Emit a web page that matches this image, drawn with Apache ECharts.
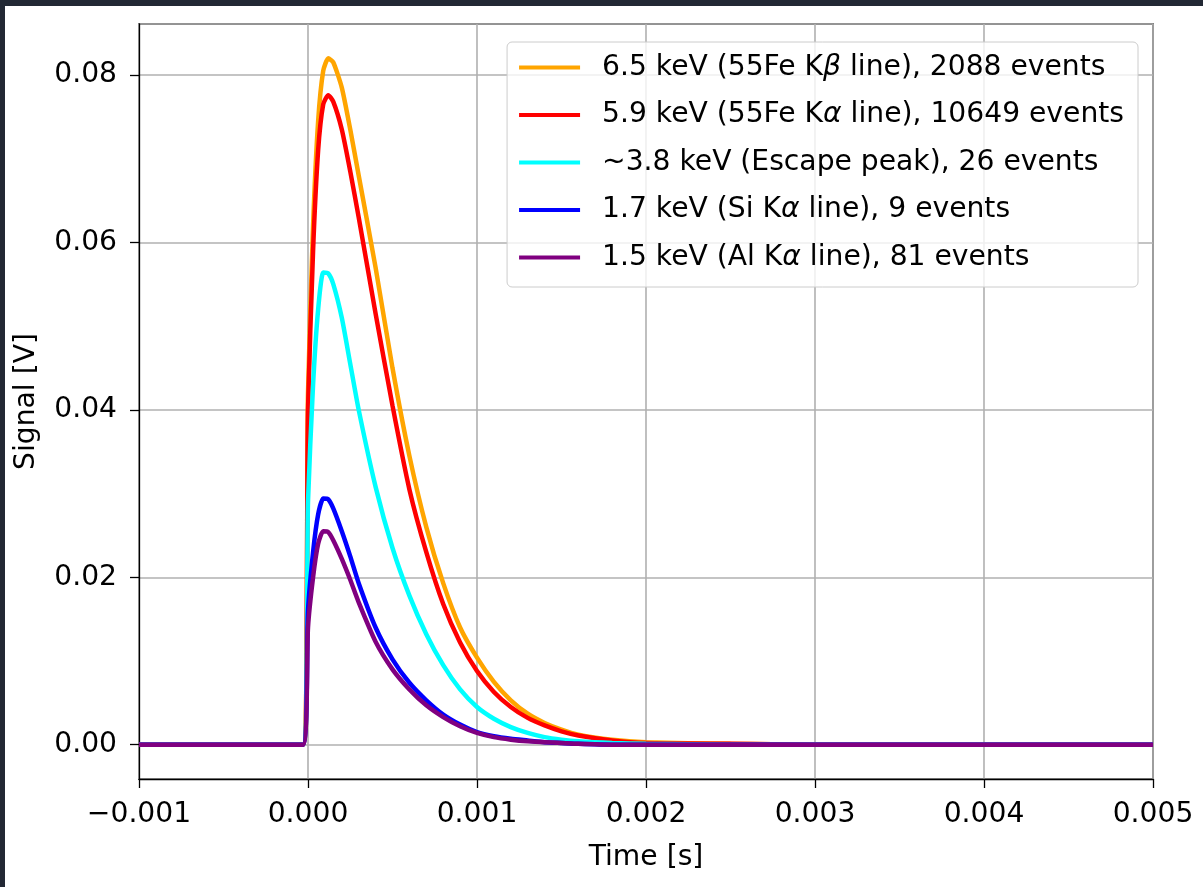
<!DOCTYPE html>
<html>
<head>
<meta charset="utf-8">
<script src="https://cdn.jsdelivr.net/npm/echarts@6/dist/echarts.min.js"></script>
<style>
  html, body { margin: 0; padding: 0; background: #222834; }
  #chart { position: absolute; left: 5px; top: 6px; width: 1198px; height: 881px; background: #fff; }
</style>
</head>
<body>
<div id="chart"></div>
<script>
// time samples [s]
var times = [-0.001, -0.00003, 0, 0.00003, 0.00006, 0.00009, 0.00012, 0.00015, 0.0002, 0.00025,
  0.0003, 0.0004, 0.0005, 0.0006, 0.0007, 0.0008, 0.0009, 0.001, 0.0011, 0.0012,
  0.0013, 0.0014, 0.0015, 0.0016, 0.0018, 0.002, 0.0025, 0.003, 0.004, 0.005];

// signal [V]
var kb65 = [0, 0, 0.042, 0.062, 0.0745, 0.0805, 0.0820, 0.0815, 0.0785, 0.0735,
  0.0680, 0.0570, 0.0450, 0.0345, 0.0260, 0.0193, 0.0140, 0.0104, 0.0075, 0.0053,
  0.0037, 0.0026, 0.0018, 0.0012, 0.0006, 0.0003, 0.0001, 0, 0, 0];
var ka59 = [0, 0, 0.040, 0.059, 0.071, 0.0765, 0.0776, 0.0768, 0.0735, 0.0685,
  0.0630, 0.0515, 0.0405, 0.0305, 0.0230, 0.0168, 0.0122, 0.0088, 0.0063, 0.0045,
  0.0032, 0.0023, 0.0016, 0.0011, 0.0005, 0.0002, 0.0001, 0, 0, 0];
var esc38 = [0, 0, 0.029, 0.043, 0.052, 0.0564, 0.0563, 0.0550, 0.0510, 0.0455,
  0.0400, 0.0308, 0.0235, 0.0178, 0.0132, 0.0095, 0.0066, 0.0045, 0.0031, 0.0021,
  0.0014, 0.0009, 0.0006, 0.0004, 0.0002, 0.0001, 0, 0, 0, 0];
var si17 = [0, 0, 0.016, 0.023, 0.0275, 0.0294, 0.0293, 0.0282, 0.0255, 0.0225,
  0.0193, 0.0140, 0.0102, 0.0074, 0.0053, 0.0036, 0.0024, 0.0015, 0.0010, 0.0007,
  0.0005, 0.0003, 0.0002, 0.0001, 0, 0, 0, 0, 0, 0];
var al15 = [0, 0, 0.014, 0.020, 0.024, 0.0255, 0.0254, 0.0244, 0.0222, 0.0197,
  0.0170, 0.0123, 0.0090, 0.0066, 0.0047, 0.0033, 0.0022, 0.0014, 0.0009, 0.0006,
  0.0004, 0.0003, 0.0002, 0.0001, 0, 0, 0, 0, 0, 0];

var names = [
  '6.5 keV (55Fe Kβ line), 2088 events',
  '5.9 keV (55Fe Kα line), 10649 events',
  '~3.8 keV (Escape peak), 26 events',
  '1.7 keV (Si Kα line), 9 events',
  '1.5 keV (Al Kα line), 81 events'
];
var colors = ['#ffa500', '#ff0000', '#00ffff', '#0000ff', '#800080'];
var values = [kb65, ka59, esc38, si17, al15];

var FONT = 'DejaVu Sans';
var FS = 28.2;
var myChart = echarts.init(document.getElementById('chart'));

var series = values.map(function (v, k) {
  return {
    name: names[k],
    type: 'line',
    data: times.map(function (t, i) { return [t, v[i]]; }),
    showSymbol: false,
    symbol: 'none',
    smooth: 0.2,
    lineStyle: { color: colors[k], width: 4.5 },
    itemStyle: { color: colors[k] }
  };
});

myChart.setOption({
  animation: false,
  textStyle: { fontFamily: FONT },
  grid: {
    left: 133, right: 50, top: 18, bottom: 108,
    show: true, borderColor: '#000', borderWidth: 1.3, backgroundColor: '#fff'
  },
  legend: {
    orient: 'vertical',
    right: 65, top: 36,
    padding: [10, 14, 14, 12],
    itemWidth: 61, itemHeight: 4,
    itemGap: 16.5,
    icon: 'rect',
    backgroundColor: 'rgba(255,255,255,0.8)',
    borderColor: '#cccccc', borderWidth: 1, borderRadius: 5,
    formatter: function (n) { return n.replace(/([αβ])/g, '{g|$1}'); },
    textStyle: {
      fontFamily: FONT, fontSize: FS, color: '#000', lineHeight: 31,
      padding: [0, 0, 0, 17],
      rich: { g: { fontFamily: FONT, fontStyle: 'italic', fontSize: FS, color: '#000' } }
    },
    data: names
  },
  xAxis: {
    type: 'value',
    min: -0.001, max: 0.005, interval: 0.001,
    name: 'Time [s]', nameLocation: 'middle', nameGap: 65,
    nameTextStyle: { fontFamily: FONT, fontSize: FS, color: '#000' },
    axisLine: { show: true, onZero: false, lineStyle: { color: '#000', width: 1.3 } },
    axisTick: { show: true, length: 9, lineStyle: { color: '#000', width: 1.3 } },
    axisLabel: {
      margin: 22, fontFamily: FONT, fontSize: FS, color: '#000',
      formatter: function (v) { return (v < -1e-12 ? '\u2212' : '') + Math.abs(v).toFixed(3); }
    },
    splitLine: { show: true, lineStyle: { color: '#b0b0b0', width: 1.6 } }
  },
  yAxis: {
    type: 'value',
    min: -0.0041, max: 0.0861, splitNumber: 5,
    name: 'Signal [V]', nameLocation: 'middle', nameGap: 98,
    nameTextStyle: { fontFamily: FONT, fontSize: FS, color: '#000' },
    axisLine: { show: true, onZero: false, lineStyle: { color: '#000', width: 1.3 } },
    axisTick: { show: true, length: 9, lineStyle: { color: '#000', width: 1.3 } },
    axisLabel: {
      margin: 22, fontFamily: FONT, fontSize: FS, color: '#000',
      showMinLabel: false, showMaxLabel: false,
      formatter: function (v) { return v.toFixed(2); }
    },
    splitLine: { show: true, lineStyle: { color: '#b0b0b0', width: 1.6 } }
  },
  series: series
});
</script>
</body>
</html>
